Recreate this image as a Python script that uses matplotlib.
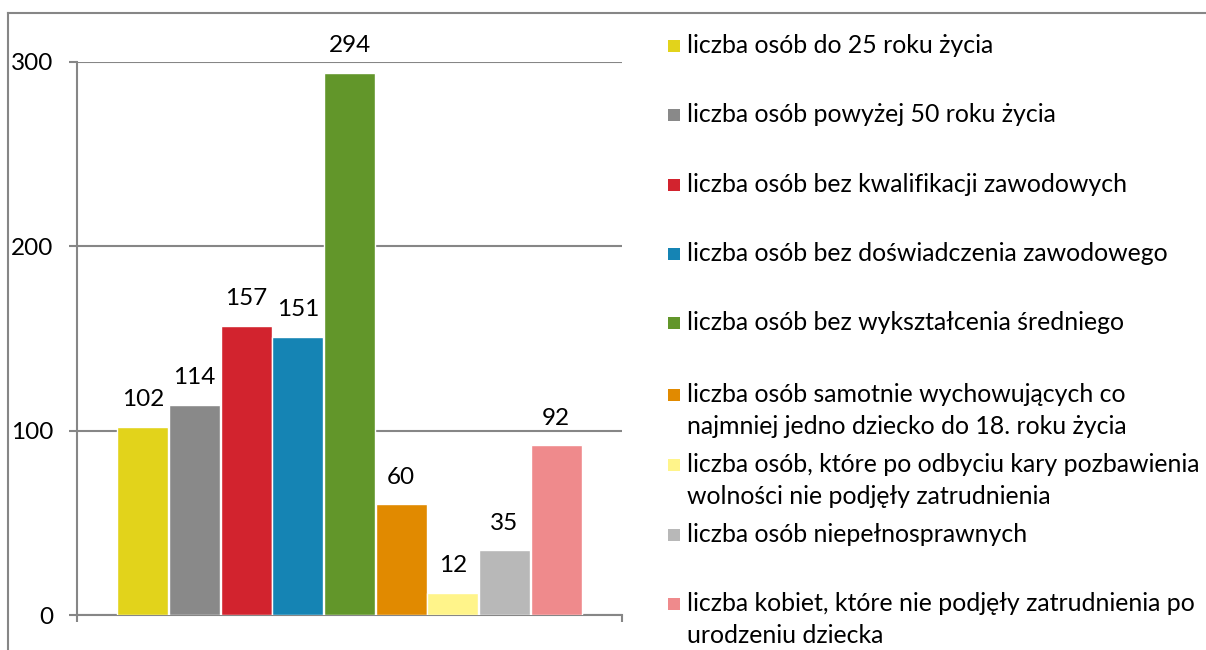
import matplotlib
matplotlib.use("Agg")
import matplotlib.pyplot as plt
from matplotlib.lines import Line2D
from matplotlib.patches import Rectangle

plt.rcParams['font.family'] = ['Lato', 'DejaVu Sans']

labels = [
    "liczba osób do 25 roku życia",
    "liczba osób powyżej 50 roku życia",
    "liczba osób bez kwalifikacji zawodowych",
    "liczba osób bez doświadczenia zawodowego",
    "liczba osób bez wykształcenia średniego",
    "liczba osób samotnie wychowujących co\nnajmniej jedno dziecko do 18. roku życia",
    "liczba osób, które po odbyciu kary pozbawienia\nwolności nie podjęły zatrudnienia",
    "liczba osób niepełnosprawnych",
    "liczba kobiet, które nie podjęły zatrudnienia po\nurodzeniu dziecka",
]
values = [102, 114, 157, 151, 294, 60, 12, 35, 92]
colors = ["#E2D31B", "#898989", "#D2232E", "#1584B4", "#62962A",
          "#E18A00", "#FFF48A", "#B8B8B8", "#EF8A8C"]
yticks = [0, 100, 200, 300]

W, H = 1206, 650
fig = plt.figure(figsize=(W / 100, H / 100), dpi=100)

def fx(px):
    return px / W

def fy(py):
    return 1 - py / H

ax = fig.add_axes([fx(77), fy(615), fx(622) - fx(77), fy(62) - fy(615)])

n = len(values)
gap = 40 / 545
slot = (1 - 2 * gap) / n
xs = [gap + (i + 0.5) * slot for i in range(n)]
bars = ax.bar(xs, values, width=slot * 0.985, color=colors,
              edgecolor="white", linewidth=1.0, zorder=3)

FS = 17.5
LFS = 17.9
for x, v in zip(xs, values):
    ax.annotate(str(v), (x, v), xytext=(0, 15), textcoords="offset points",
                ha="center", va="baseline", fontsize=FS, color="black")

ax.set_xlim(0, 1)
ax.set_ylim(0, 300)
ax.set_yticks(yticks)
ax.set_yticklabels([str(t) for t in yticks], fontsize=FS)
ax.set_xticks([0, 1])
ax.set_xticklabels([])
ax.tick_params(axis='y', direction='out', length=6, width=1.5, color="#868686", pad=11)
ax.tick_params(axis='x', direction='out', length=5, width=1.5, color="#868686")
ax.yaxis.grid(True, color="#868686", linewidth=1.5, zorder=0)
ax.set_axisbelow(True)
for s in ["top", "right"]:
    ax.spines[s].set_visible(False)
for s in ["left", "bottom"]:
    ax.spines[s].set_color("#868686")
    ax.spines[s].set_linewidth(1.5)

# outer chart border (top and left edges visible)
fig.add_artist(Line2D([fx(8), 1], [fy(13), fy(13)], color="#868686", linewidth=1.5))
fig.add_artist(Line2D([fx(8), fx(8)], [0, fy(13)], color="#868686", linewidth=1.5))

# legend
legend_centers = [46, 115, 185, 254, 323, 395, 465, 535, 604]
line_gap = 32
for lab, col, cy in zip(labels, colors, legend_centers):
    fig.add_artist(Rectangle((fx(668), fy(cy + 6)), fx(12), fy(0) - fy(12),
                             facecolor=col, edgecolor="none"))
    for k, line in enumerate(lab.split("\n")):
        fig.text(fx(687), fy(cy + 7 + k * line_gap), line, fontsize=LFS,
                 ha="left", va="baseline", color="black")

fig.savefig("out.png", dpi=100)
